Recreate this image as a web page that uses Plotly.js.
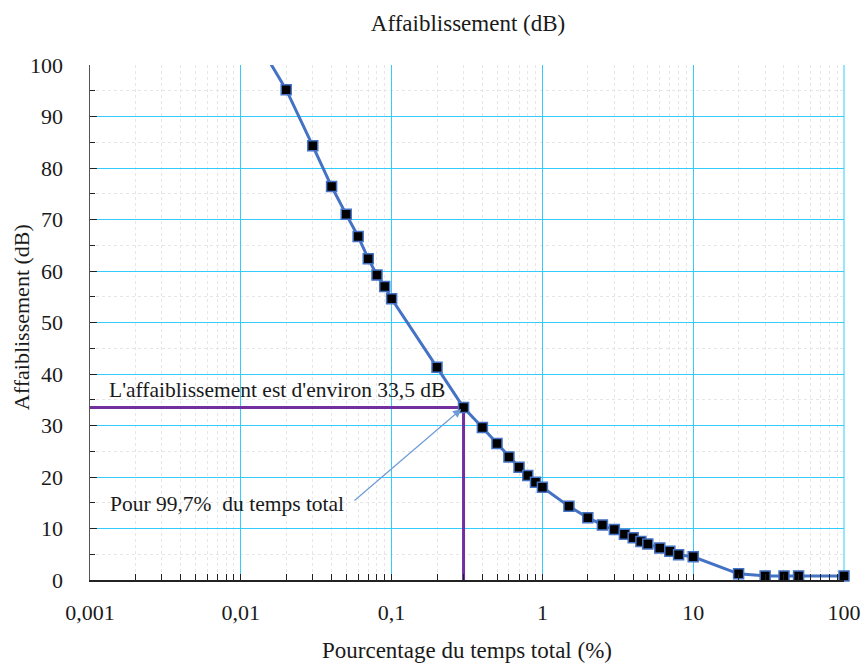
<!DOCTYPE html>
<html><head><meta charset="utf-8">
<script src="https://cdn.plot.ly/plotly-3.0.1.min.js"></script>
<style>body{margin:0;background:#fff}#chart{width:861px;height:663px}</style>
</head><body><div id="chart"></div>
<script>
const timePct = [0.01, 0.02, 0.03, 0.04, 0.05, 0.06, 0.07, 0.08, 0.09, 0.1, 0.2, 0.3, 0.4, 0.5, 0.6, 0.7, 0.8, 0.9, 1, 1.5, 2, 2.5, 3, 3.5, 4, 4.5, 5, 6, 7, 8, 10, 20, 30, 40, 50, 100];
const attenuation = [110, 95.2, 84.3, 76.4, 71.0, 66.7, 62.4, 59.2, 57.0, 54.6, 41.3, 33.5, 29.6, 26.5, 23.9, 21.9, 20.3, 19.0, 18.0, 14.3, 12.1, 10.7, 9.8, 8.9, 8.2, 7.5, 7.0, 6.2, 5.6, 4.9, 4.5, 1.2, 0.8, 0.8, 0.8, 0.8];
const xTickVals = [0.001, 0.01, 0.1, 1, 10, 100];
const xTickText = ["0,001", "0,01", "0,1", "1", "10", "100"];
const yTickVals = [0, 10, 20, 30, 40, 50, 60, 70, 80, 90, 100];
const refPct = 0.3, refDb = 33.5, xMin = 0.001;
const yTitle = "Affaiblissement (dB)";
const labelResult = "L'affaiblissement est d'environ 33,5 dB";
const labelTime = "Pour 99,7%\u00a0 du temps total";

const minorX = [];
for (let d = -3; d < 2; d++) for (let m = 2; m <= 9; m++) minorX.push(m * Math.pow(10, d));

const font = {family: "Times New Roman, Liberation Serif, DejaVu Serif, serif", color: "#1a1a1a"};

// markers only for points inside the visible range
const visIdx = attenuation.map((v, i) => i).filter(i => attenuation[i] <= 100);

const traces = [
  {x: [xMin, refPct, refPct], y: [refDb, refDb, 0], mode: "lines", line: {color: "#7030A0", width: 3}, hoverinfo: "skip"},
  {x: timePct, y: attenuation, mode: "lines", line: {color: "#4472C4", width: 3}},
  {x: visIdx.map(i => timePct[i]), y: visIdx.map(i => attenuation[i]), mode: "markers",
   marker: {symbol: "square", size: 10, color: "#000", line: {color: "#4472C4", width: 1.5}}, cliponaxis: false}
];

const layout = {
  width: 861, height: 663,
  margin: {l: 90, r: 17, t: 65, b: 83},
  paper_bgcolor: "#fff", plot_bgcolor: "#fff",
  showlegend: false,
  font: Object.assign({size: 22}, font),
  separators: ", ",
  title: {text: "Affaiblissement (dB)", font: Object.assign({size: 23}, font), x: 0.5436, xanchor: "center", y: 0.965, yanchor: "middle"},
  xaxis: {
    type: "log", range: [-3, 2],
    tickvals: xTickVals, ticktext: xTickText,
    showgrid: true, gridcolor: "#33CCFF", gridwidth: 1,
    showline: true, linecolor: "#222", linewidth: 1.5,
    ticks: "inside", ticklen: 6, tickcolor: "#222",
    ticklabelstandoff: 12, ticklabeloverflow: "allow",
    tickfont: Object.assign({size: 22}, font),
    minor: {tickvals: minorX, ticks: "inside", ticklen: 6, tickcolor: "#222", showgrid: true, gridcolor: "#e6e6e6", griddash: "dot", gridwidth: 1},
    title: {text: "Pourcentage du temps total (%)", font: Object.assign({size: 23}, font), standoff: 18},
    zeroline: false
  },
  yaxis: {
    range: [0, 100], tickvals: yTickVals,
    showgrid: true, gridcolor: "#33CCFF", gridwidth: 1,
    showline: true, linecolor: "#555", linewidth: 1.5,
    ticks: "inside", ticklen: 7, tickcolor: "#222",
    ticklabelstandoff: 21,
    tickfont: Object.assign({size: 22}, font),
    minor: {dtick: 5, ticks: "inside", ticklen: 5, tickcolor: "#222", showgrid: true, gridcolor: "#e6e6e6", griddash: "dot", gridwidth: 1},
    zeroline: false
  },
  shapes: [
    {type: "line", xref: "paper", yref: "paper", x0: 1, x1: 1, y0: 0, y1: 1, line: {color: "#33CCFF", width: 1}, layer: "below"}
  ],
  annotations: [
    {xref: "paper", yref: "paper", x: -0.0898, y: 0.511, xanchor: "center", yanchor: "middle", textangle: -90, text: yTitle, showarrow: false, font: Object.assign({size: 22}, font)},
    {xref: "paper", yref: "y", x: 0.022, y: 36.9, xanchor: "left", yanchor: "middle", text: labelResult, showarrow: false, font: Object.assign({size: 21.5}, font)},
    {xref: "paper", yref: "y", x: 0.024, y: 14.8, xanchor: "left", yanchor: "middle", text: labelTime, showarrow: false, font: Object.assign({size: 21.5}, font)},
    {xref: "x", yref: "y", axref: "x", ayref: "y", x: Math.log10(0.29), y: 33.2, ax: Math.log10(0.0555), ay: 15.2, text: "", showarrow: true, arrowhead: 2, arrowsize: 1.4, arrowwidth: 1.2, arrowcolor: "#6F9BD6", standoff: 0}
  ]
};

Plotly.newPlot("chart", traces, layout, {displayModeBar: false, staticPlot: true});
</script></body></html>
